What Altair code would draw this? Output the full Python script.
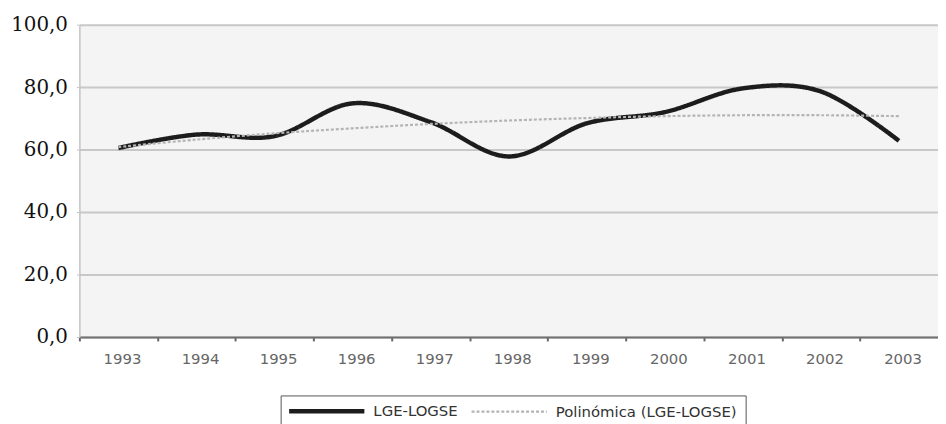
import altair as alt
import pandas as pd

years = ["1993", "1994", "1995", "1996", "1997", "1998", "1999", "2000", "2001", "2002", "2003"]
lge_logse = [60.5, 64.8, 64.3, 74.8, 68.8, 57.8, 68.4, 72.0, 79.6, 78.6, 62.8]
polinomica = [60.8, 63.2, 65.2, 66.8, 68.2, 69.3, 70.1, 70.7, 71.0, 71.0, 70.7]
series_names = ["LGE-LOGSE", "Polinómica (LGE-LOGSE)"]
y_ticks = [0, 20, 40, 60, 80, 100]

df = pd.DataFrame({
    "year": years + years,
    "value": lge_logse + polinomica,
    "series": [series_names[0]] * len(years) + [series_names[1]] * len(years),
})

legend = alt.Legend(
    title=None, orient="none", legendX=203, legendY=374,
    direction="horizontal", columns=2,
    symbolType="M-6.9,0H6.9", symbolSize=121, symbolOffset=30.5,
    labelOffset=39, columnPadding=9, padding=8, labelLimit=400,
    strokeColor="#555555", fillColor="white",
    labelFont="DejaVu Sans", labelFontSize=15, labelColor="#333333",
)

chart = alt.Chart(df).mark_line(interpolate="cardinal").encode(
    x=alt.X("year:O", sort=years, title=None,
            axis=alt.Axis(labelAngle=0, labelFont="DejaVu Sans", labelFontSize=15,
                          labelColor="#666666", domainColor="#707070", domainWidth=2,
                          tickColor="#666666", tickSize=4, tickWidth=2,
                          tickOffset=-39.4, labelOffset=43, labelPadding=11, grid=False)),
    y=alt.Y("value:Q", title=None,
            scale=alt.Scale(domain=[0, 100], nice=False),
            axis=alt.Axis(values=y_ticks, grid=True, gridColor="#c8c8c8", gridWidth=2,
                          domainColor="#c4c4c4", domainWidth=1.5, tickColor="#c4c4c4",
                          tickSize=3, labelPadding=9, labelFont="DejaVu Serif",
                          labelFontSize=20, labelColor="#111111",
                          labelExpr="replace(format(datum.value, '.1f'), '.', ',')")),
    color=alt.Color("series:N", scale=alt.Scale(domain=series_names, range=["#1c1c1c", "#b4b4b4"]), legend=legend),
    strokeDash=alt.StrokeDash("series:N", scale=alt.Scale(domain=series_names, range=[[1, 0], [3, 2]]), legend=legend),
    strokeWidth=alt.StrokeWidth("series:N", scale=alt.Scale(domain=series_names, range=[4.5, 2.2]), legend=legend),
).properties(
    width=866, height=315,
    autosize=alt.AutoSizeParams(type="none"),
    padding={"left": 72, "top": 15, "right": 0, "bottom": 86},
    background="white",
).configure_view(fill="#f4f4f4", strokeWidth=0)

chart.save("out.html", embed_options={"renderer": "svg", "actions": False})
